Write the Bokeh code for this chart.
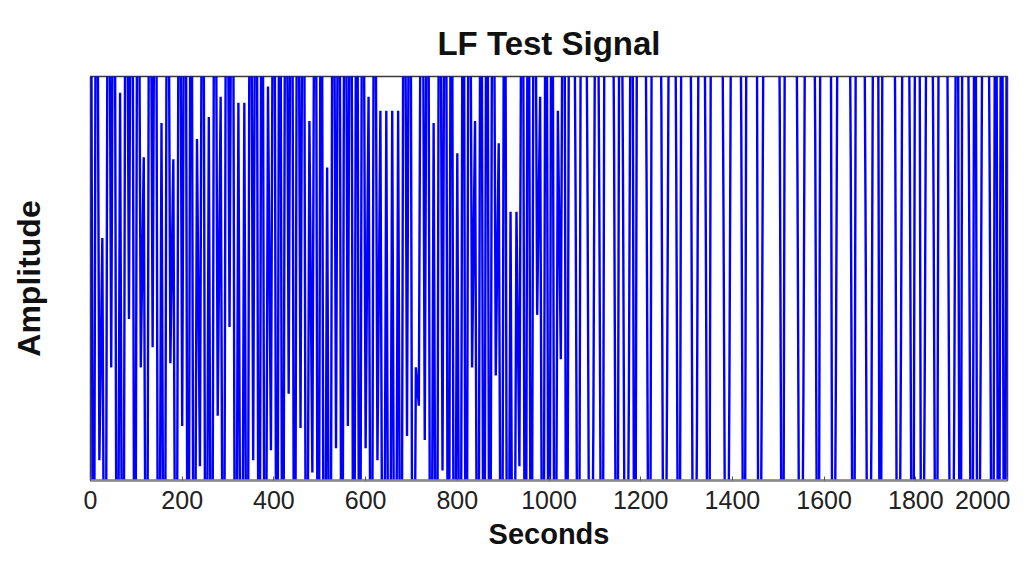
from bokeh.plotting import figure
from bokeh.models import Range1d, FixedTicker, ColumnDataSource
from bokeh.embed import file_html
from bokeh.resources import INLINE

# ---- chart data ----
title_text = "LF Test Signal"
x_label = "Seconds"
y_label = "Amplitude"
x_tick_values = [0, 200, 400, 600, 800, 1000, 1200, 1400, 1600, 1800, 2000]
x_tick_labels = ["0", "200", "400", "600", "800", "1000", "1200", "1400", "1600", "1800", "2000"]

# sampled signal: one value every sample_interval seconds; values beyond +-1
# lie outside the plotted amplitude window (the trace is clipped by the frame)
sample_interval = 2000 / 310
amplitude = [
    # 0 - 1050 s : fast, aliased part
    3, -3, 3, -0.9, 0.2, -3, 3, -0.44, 3, -3, 0.92, -3, 3, -0.2, 3, -3,
    3, -0.44, 0.6, -3, 3, -0.34, 3, -3, 0.77, -3, 3, -0.42, 0.59, -3, 3, -0.73,
    3, -3, 3, -3, 0.69, -0.93, 3, -3, 0.8, -3, 3, -0.68, 0.9, -3, 3, -0.24,
    3, -3, 0.87, -3, 0.87, -3, 3, -0.9, 3, -3, 3, -3, 0.95, -0.85, 3, -3,
    3, -3, 3, -0.57, 3, -3, 3, -0.74, 3, -3, 0.78, -0.96, 3, -3, 3, -3,
    0.55, -3, 3, -0.84, 3, -3, 3, -0.73, 3, -3, 3, -3, 3, -0.84, 0.9, -3,
    3, -0.9, 0.83, -3, 0.83, -3, 0.83, -3, 0.83, -3, 3, -0.78, 3, -3, -0.44, -0.63,
    3, -0.8, 3, -3, 0.77, -3, 3, -0.95, 3, -3, 3, -3, 0.62, -3, 3, -3,
    3, -0.44, 0.78, -3, 3, -3, 3, -3, 3, -0.48, 0.67, -3, 3, -3, 0.33, -3,
    0.33, -0.93, 3, -3, 3, -3, 3, -0.18, 0.9, -3, 3, -3, 3, -3, 0.83, -0.4,
    3, -3, 3,
    # 1050 - 2000 s : slower part
    3, 0.38, -3, 3, 3, 0.5, -3, -0.72, 3, 0.4, -3, 3, 3, 3, 0.65, -3,
    3, 0.55, -3, -0.6, 3, -3, 3, 3, 3, 0.45, -3, 3, 3, 3, 0.83, -3,
    -0.3, 3, 3, 0.6, -3, 3, 3, 3, 0.92, -3, -0.8, 3, 3, 0.25, -3, 3,
    3, 3, 3, 0.3, -3, -0.5, 3, 3, 3, 0.75, -3, 3, 3, 3, 3, -3,
    -0.35, 3, 3, 3, 3, 3, 0.85, -3, 3, 3, 3, 3, 0.5, -3, -0.6, 3,
    3, 3, 0.7, -3, 3, 3, 3, 3, -3, -0.45, 3, 3, 3, 3, 0.6, -3,
    3, 3, 3, 0.35, -3, -0.75, 3, 3, -3, 3, 3, 3, 3, 0.9, -3, -0.3,
    3, 3, 0.55, -3, 3, 3, -3, -0.55, 3, 3, 0.4, -3, 3, 3, 3, 0.2,
    -3, -0.65, 3, -3, 3, 3, 0.5, -3, 3, -3, -0.2, 3, 3, 0.45, -3, 3,
    -3, 3, -3, 3,
]
seconds = [i * sample_interval for i in range(len(amplitude))]

FONT = "Liberation Sans"

p = figure(width=1010, height=552, output_backend="svg", toolbar_location=None,
           x_range=Range1d(0, 2000), y_range=Range1d(-1, 1),
           min_border_left=90, min_border_right=3, min_border_top=76,
           min_border_bottom=60, background_fill_color="white",
           border_fill_color="white")

p.title.text = title_text
p.title.align = "center"
p.title.text_font = FONT
p.title.text_font_size = "33px"
p.title.text_font_style = "bold"
p.title.text_color = "#111111"
p.title.standoff = 30

src = ColumnDataSource(dict(x=seconds, y=amplitude))
p.line("x", "y", source=src, line_color="#0000ff", line_width=2.4)

p.grid.visible = False
p.outline_line_color = "#3a3a3a"
p.outline_line_width = 1.5

xa = p.xaxis[0]
xa.ticker = FixedTicker(ticks=x_tick_values)
xa.major_label_overrides = {v: s for v, s in zip(x_tick_values, x_tick_labels)}
xa.major_label_text_font = FONT
xa.major_label_text_font_size = "25px"
xa.major_label_text_color = "#222222"
xa.major_label_standoff = 10
xa.major_tick_in = 4
xa.major_tick_out = 0
xa.minor_tick_line_color = None
xa.axis_line_color = "#8a8a8a"
xa.axis_line_width = 2.5
xa.major_tick_line_color = "#555555"
xa.axis_label = x_label
xa.axis_label_text_font = FONT
xa.axis_label_text_font_size = "29px"
xa.axis_label_text_font_style = "bold"
xa.axis_label_text_color = "#111111"
xa.axis_label_standoff = 6

ya = p.yaxis[0]
ya.ticker = FixedTicker(ticks=[])
ya.minor_tick_line_color = None
ya.major_tick_line_color = None
ya.axis_line_color = None
ya.axis_label = y_label
ya.axis_label_text_font = FONT
ya.axis_label_text_font_size = "32px"
ya.axis_label_text_font_style = "bold"
ya.axis_label_text_color = "#111111"
ya.axis_label_standoff = 44

open("out.html", "w").write(file_html(p, INLINE))
